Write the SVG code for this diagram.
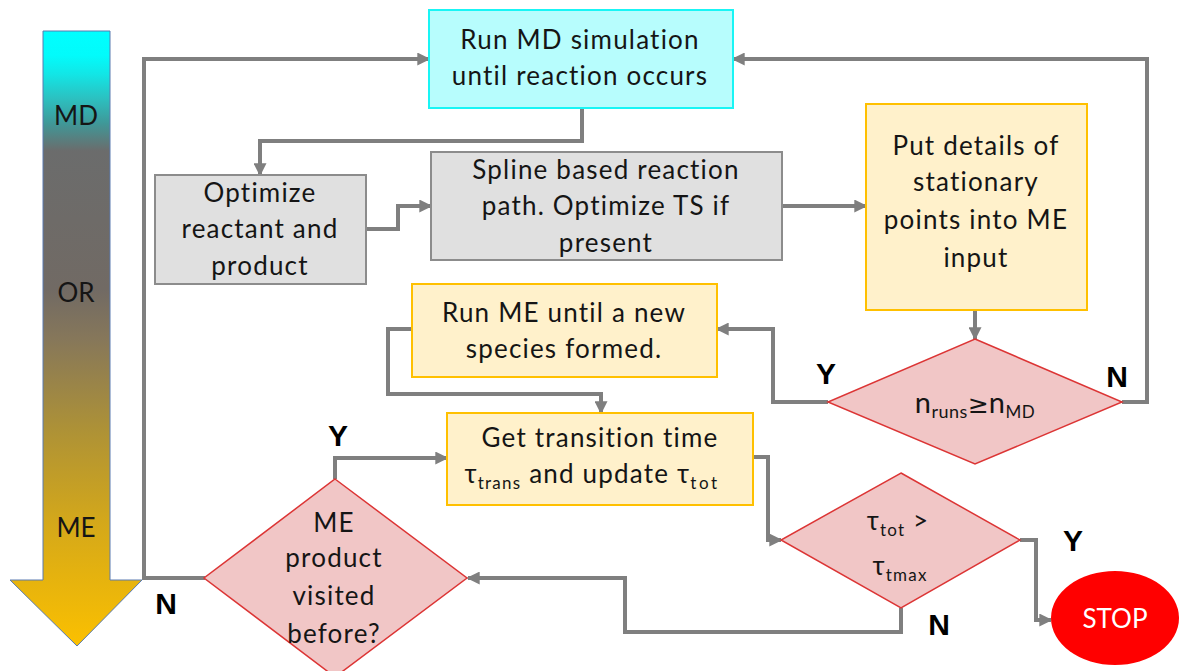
<svg xmlns="http://www.w3.org/2000/svg" width="1182" height="671" viewBox="0 0 1182 671">
<defs>
<style>
.t{font-family:Lato,"Open Sans","DejaVu Sans",sans-serif;font-size:26px;letter-spacing:1.2px;fill:#151515;text-anchor:middle}
.lbl{font-family:"Liberation Sans",Arial,sans-serif;font-weight:bold;font-size:30px;fill:#000;text-anchor:middle}
.c{fill:none;stroke:#7f7f7f;stroke-width:4;marker-end:url(#ah)}
.cyan{fill:#b7fdfd;stroke:#19f5f5;stroke-width:2}
.gray{fill:#e0e0e0;stroke:#8c8c8c;stroke-width:2}
.yel{fill:#fff1cb;stroke:#ffc000;stroke-width:2}
.dia{fill:#f1c6c6;stroke:#dc3535;stroke-width:1.5}
</style>
<linearGradient id="g" x1="0" y1="31" x2="0" y2="646" gradientUnits="userSpaceOnUse">
<stop offset="0" stop-color="#00ffff"/>
<stop offset="0.04" stop-color="#02fbfb"/>
<stop offset="0.07" stop-color="#12e6e6"/>
<stop offset="0.11" stop-color="#2cc0c0"/>
<stop offset="0.15" stop-color="#3f9898"/>
<stop offset="0.195" stop-color="#6b6c6c"/>
<stop offset="0.42" stop-color="#716a64"/>
<stop offset="0.5" stop-color="#86775a"/>
<stop offset="0.65" stop-color="#ae9236"/>
<stop offset="0.8" stop-color="#d4a81a"/>
<stop offset="1" stop-color="#fbc000"/>
</linearGradient>
<marker id="ah" viewBox="0 0 10 10" refX="9" refY="5" markerWidth="13" markerHeight="13" markerUnits="userSpaceOnUse" orient="auto">
<path d="M0,0 L10,5 L0,10 z" fill="#7f7f7f"/>
</marker>
</defs>

<g id="scale-arrow">
<polygon points="43,31 110,31 110,580 142,580 77,646 10,580 43,580" fill="url(#g)" stroke="#5a7bb0" stroke-width="1"/>
<text class="t" x="76" y="125" style="letter-spacing:0">MD</text>
<text class="t" x="76" y="302" style="letter-spacing:0">OR</text>
<text class="t" x="76" y="537" style="letter-spacing:0">ME</text>
</g>

<g id="connectors">
<path class="c" d="M205,578 H144 V59 H429"/>
<path class="c" d="M582,108 V141 H260 V175"/>
<path class="c" d="M366,229 H398 V206 H431"/>
<path class="c" d="M782,206 H866"/>
<path class="c" d="M975,310 V339"/>
<path class="c" d="M1122,402 H1147 V59 H733"/>
<path class="c" d="M828,402 H773 V329 H717"/>
<path class="c" d="M412,329 H388 V394 H601 V413"/>
<path class="c" d="M335,479 V458 H447"/>
<path class="c" d="M753,457 H768 V540 H781"/>
<path class="c" d="M1020,540 H1036 V620 H1051"/>
<path class="c" d="M901,608 V632 H625 V578 H468"/>
</g>

<g id="run-md">
<rect class="cyan" x="429" y="10" width="304" height="98"/>
<text class="t" x="580" y="49">Run MD simulation</text>
<text class="t" x="580" y="85">until reaction occurs</text>
</g>

<g id="optimize">
<rect class="gray" x="155" y="175" width="211" height="109"/>
<text class="t" x="260" y="202">Optimize</text>
<text class="t" x="260" y="238">reactant and</text>
<text class="t" x="260" y="275">product</text>
</g>

<g id="spline">
<rect class="gray" x="431" y="152" width="351" height="108"/>
<text class="t" x="606" y="179">Spline based reaction</text>
<text class="t" x="606" y="215">path. Optimize TS if</text>
<text class="t" x="606" y="252">present</text>
</g>

<g id="put-details">
<rect class="yel" x="866" y="104" width="221" height="206"/>
<text class="t" x="976" y="155">Put details of</text>
<text class="t" x="976" y="191">stationary</text>
<text class="t" x="976" y="229">points into ME</text>
<text class="t" x="976" y="267">input</text>
</g>

<g id="nruns-decision">
<polygon class="dia" points="975,339 1122,402 975,464 828,402"/>
<text class="t" x="975" y="413" style="font-size:29px;letter-spacing:0.5px">n<tspan font-size="18" dy="5">runs</tspan><tspan dy="-5" font-family="DejaVu Sans, sans-serif" font-size="25" letter-spacing="0">≥</tspan><tspan>n</tspan><tspan font-size="17" dy="5">MD</tspan></text>
</g>

<g id="run-me">
<rect class="yel" x="412" y="284" width="305" height="93"/>
<text class="t" x="564" y="322">Run ME until a new</text>
<text class="t" x="564" y="358">species formed.</text>
</g>

<g id="get-transition">
<rect class="yel" x="447" y="413" width="306" height="92"/>
<text class="t" x="600" y="447">Get transition time</text>
<text class="t" x="592" y="483">τ<tspan font-size="17" dy="6">trans</tspan><tspan dy="-6"> and update τ</tspan><tspan font-size="17" dy="6" letter-spacing="2.5">tot</tspan></text>
</g>

<g id="tau-decision">
<polygon class="dia" points="901,473 1020,540 901,608 781,540"/>
<text class="t" x="898" y="530">τ<tspan font-size="17" dy="6">tot</tspan><tspan dy="-6"> &gt;</tspan></text>
<text class="t" x="900" y="575">τ<tspan font-size="17" dy="6">tmax</tspan></text>
</g>

<g id="me-product-decision">
<polygon class="dia" points="335,479 467,578 335,677 204,578"/>
<text class="t" x="334" y="532">ME</text>
<text class="t" x="334" y="567">product</text>
<text class="t" x="334" y="605">visited</text>
<text class="t" x="334" y="643">before?</text>
</g>

<g id="stop">
<ellipse cx="1115" cy="618" rx="64" ry="47" fill="#ff0000"/>
<text class="t" x="1115" y="628" style="fill:#fff;letter-spacing:0">STOP</text>
</g>

<g id="labels">
<text class="lbl" x="338" y="446">Y</text>
<text class="lbl" x="166" y="614">N</text>
<text class="lbl" x="826" y="384">Y</text>
<text class="lbl" x="1117" y="387">N</text>
<text class="lbl" x="1073" y="551">Y</text>
<text class="lbl" x="939" y="635">N</text>
</g>
</svg>
